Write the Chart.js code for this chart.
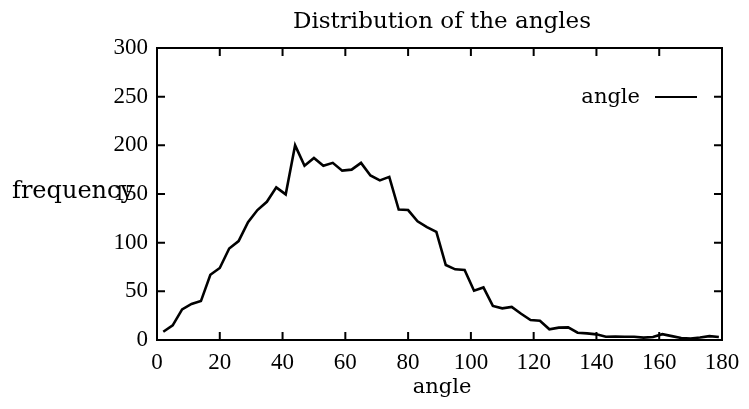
<!DOCTYPE html>
<html>
<head>
<meta charset="utf-8">
<script src="https://cdn.jsdelivr.net/npm/chart.js@4"></script>
<style>
html,body{margin:0;padding:0;background:#fff;}
#wrap{width:749px;height:409px;position:relative;}
</style>
</head>
<body>
<div id="wrap"><canvas id="c" width="749" height="409"></canvas></div>
<script>
const chartTitle = "Distribution of the angles";
const xAxisTitle = "angle";
const yAxisTitle = "frequency";
const seriesLabel = "angle";
const angles = [2,5,8,11,14,17,20,23,26,29,32,35,38,41,44,47,50,53,56,59,62,65,68,71,74,77,80,83,86,89,92,95,98,101,104,107,110,113,116,119,122,125,128,131,134,137,140,143,146,149,152,155,158,161,164,167,170,173,176,179];
const frequency = [8.5,15,31.5,37,40,67,74,94,101.6,121,133.5,142,156.8,149.6,200,179,187,179,182,174,175,182,169,164,167.6,134,133.5,122,116,111,77,72.6,72,50.6,54,35,32.5,34,27,20.5,19.8,11,12.7,13,7.5,6.8,5.8,3.4,3.5,3.4,3.4,2.4,3,6,4,2,1.5,2.5,4,3];
const xTicks = [0,20,40,60,80,100,120,140,160,180];
const yTicks = [0,50,100,150,200,250,300];

const TICKFONT = "'Liberation Serif', 'Times New Roman', serif";
const WORDFONT = "'DejaVu Serif', 'Liberation Serif', serif";

const framePlugin = {
  id: 'frame',
  afterDraw(chart) {
    const ctx = chart.ctx;
    const a = chart.chartArea;
    const xs = chart.scales.x, ys = chart.scales.y;
    ctx.save();
    ctx.strokeStyle = '#000';
    ctx.lineWidth = 2;
    ctx.strokeRect(a.left, a.top, a.right - a.left, a.bottom - a.top);
    const tl = 8;
    ctx.beginPath();
    xTicks.forEach(v => {
      const px = xs.getPixelForValue(v);
      ctx.moveTo(px, a.bottom); ctx.lineTo(px, a.bottom - tl);
      ctx.moveTo(px, a.top); ctx.lineTo(px, a.top + tl);
    });
    yTicks.forEach(v => {
      const py = ys.getPixelForValue(v);
      ctx.moveTo(a.left, py); ctx.lineTo(a.left + tl, py);
      ctx.moveTo(a.right, py); ctx.lineTo(a.right - tl, py);
    });
    ctx.stroke();
    ctx.fillStyle = '#000';
    ctx.textBaseline = 'alphabetic';
    // title
    ctx.font = '23px ' + WORDFONT;
    ctx.textAlign = 'center';
    ctx.fillText(chartTitle, 442, 28);
    // x axis label
    ctx.font = '21px ' + WORDFONT;
    ctx.fillText(xAxisTitle, 442, 393);
    // y axis label
    ctx.font = '24px ' + WORDFONT;
    ctx.textAlign = 'left';
    ctx.fillText(yAxisTitle, 12, 198);
    // legend
    const ds = chart.data.datasets[0];
    ctx.font = '21px ' + WORDFONT;
    ctx.textAlign = 'right';
    ctx.fillText(ds.label, 640, 103);
    ctx.beginPath();
    ctx.lineWidth = 2;
    ctx.moveTo(655, 97); ctx.lineTo(697, 97);
    ctx.stroke();
    ctx.restore();
  }
};

new Chart(document.getElementById('c'), {
  type: 'line',
  data: {
    datasets: [{
      label: seriesLabel,
      data: angles.map((a, i) => ({x: a, y: frequency[i]})),
      borderColor: '#000',
      borderWidth: 2.6,
      pointRadius: 0,
      tension: 0,
      fill: false
    }]
  },
  options: {
    responsive: false,
    animation: false,
    devicePixelRatio: 1,
    layout: {padding: {left: 0, right: 27, top: 48, bottom: 0}},
    plugins: {legend: {display: false}, title: {display: false}, tooltip: {enabled: false}},
    scales: {
      x: {
        type: 'linear', min: 0, max: 180,
        afterBuildTicks(s) { s.ticks = xTicks.map(v => ({value: v})); },
        afterFit(s) { s.height = 69; },
        grid: {display: false, drawTicks: false},
        border: {display: false},
        ticks: {color: '#000', padding: 9, maxRotation: 0, font: {family: TICKFONT, size: 23}},
        title: {display: false}
      },
      y: {
        type: 'linear', min: 0, max: 300,
        afterBuildTicks(s) { s.ticks = yTicks.map(v => ({value: v})); },
        afterFit(s) { s.width = 157; },
        grid: {display: false, drawTicks: false},
        border: {display: false},
        ticks: {color: '#000', padding: 9, font: {family: TICKFONT, size: 23}}
      }
    }
  },
  plugins: [framePlugin]
});
</script>
</body>
</html>
